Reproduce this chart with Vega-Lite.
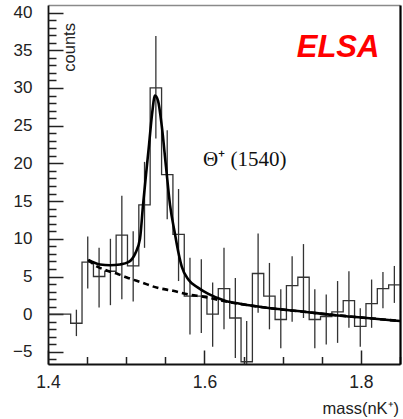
{
  "$schema": "https://vega.github.io/schema/vega-lite/v6.json",
  "width": 352,
  "height": 359,
  "autosize": "none",
  "padding": {"left": 48, "top": 5, "right": 3, "bottom": 55},
  "background": "white",
  "config": {
    "view": {"stroke": null},
    "axis": {"labelFont": "Liberation Sans", "titleFont": "Liberation Sans", "grid": false}
  },
  "datasets": {
    "hist": [
      {"edge": 1.4, "count": 0}, {"edge": 1.4145, "count": 0}, {"edge": 1.429, "count": -1.2},
      {"edge": 1.4435, "count": 6.9}, {"edge": 1.4581, "count": 5.0}, {"edge": 1.4726, "count": 5.7},
      {"edge": 1.4871, "count": 10.5}, {"edge": 1.5016, "count": 6.4}, {"edge": 1.5161, "count": 14.5},
      {"edge": 1.5306, "count": 30.0}, {"edge": 1.5452, "count": 18.5}, {"edge": 1.5597, "count": 10.6},
      {"edge": 1.5742, "count": 2.4}, {"edge": 1.5887, "count": 2.4}, {"edge": 1.6032, "count": 0.0},
      {"edge": 1.6177, "count": 3.4}, {"edge": 1.6323, "count": -0.5}, {"edge": 1.6468, "count": -6.3},
      {"edge": 1.6613, "count": 5.4}, {"edge": 1.6758, "count": 2.4}, {"edge": 1.6903, "count": -0.7},
      {"edge": 1.7048, "count": 3.8}, {"edge": 1.7194, "count": 4.9}, {"edge": 1.7339, "count": -0.7},
      {"edge": 1.7484, "count": -0.3}, {"edge": 1.7629, "count": 0.3}, {"edge": 1.7774, "count": 1.8},
      {"edge": 1.7919, "count": -1.6}, {"edge": 1.8065, "count": 1.4}, {"edge": 1.821, "count": 3.4},
      {"edge": 1.8355, "count": 3.9}, {"edge": 1.85, "count": 3.9}
    ],
    "err": [
      {"xc": 1.4363, "lo": -2.9, "hi": 0.6}, {"xc": 1.4508, "lo": 3.4, "hi": 10.3},
      {"xc": 1.4653, "lo": 0.9, "hi": 8.8}, {"xc": 1.4798, "lo": 1.2, "hi": 10.0},
      {"xc": 1.4944, "lo": 2.0, "hi": 15.7}, {"xc": 1.5089, "lo": 1.7, "hi": 11.0},
      {"xc": 1.5234, "lo": 8.8, "hi": 20.2}, {"xc": 1.5379, "lo": 23.3, "hi": 36.9},
      {"xc": 1.5524, "lo": 12.6, "hi": 24.4}, {"xc": 1.5669, "lo": 4.4, "hi": 16.6},
      {"xc": 1.5815, "lo": -2.7, "hi": 7.5}, {"xc": 1.596, "lo": -2.5, "hi": 7.3},
      {"xc": 1.6105, "lo": -4.3, "hi": 4.2}, {"xc": 1.625, "lo": -2.0, "hi": 8.8},
      {"xc": 1.6395, "lo": -5.8, "hi": 4.8}, {"xc": 1.654, "lo": -11.0, "hi": -0.9},
      {"xc": 1.6686, "lo": 0.2, "hi": 10.7}, {"xc": 1.6831, "lo": -2.0, "hi": 6.8},
      {"xc": 1.6976, "lo": -4.5, "hi": 3.3}, {"xc": 1.7121, "lo": -1.0, "hi": 7.7},
      {"xc": 1.7266, "lo": -0.5, "hi": 9.3}, {"xc": 1.7411, "lo": -4.5, "hi": 3.3},
      {"xc": 1.7557, "lo": -4.0, "hi": 2.6}, {"xc": 1.7702, "lo": -3.8, "hi": 4.4},
      {"xc": 1.7847, "lo": -1.8, "hi": 5.7}, {"xc": 1.7992, "lo": -4.3, "hi": 0.8},
      {"xc": 1.8137, "lo": -1.8, "hi": 4.6}, {"xc": 1.8282, "lo": 0.8, "hi": 5.6},
      {"xc": 1.8428, "lo": 1.5, "hi": 6.4}
    ],
    "fit": [
      {"m": 1.4515, "f": 7.2}, {"m": 1.4665, "f": 6.6}, {"m": 1.4793, "f": 6.5}, {"m": 1.4921, "f": 6.6},
      {"m": 1.5027, "f": 6.9}, {"m": 1.5113, "f": 8.0}, {"m": 1.5176, "f": 10.0}, {"m": 1.5215, "f": 14.5},
      {"m": 1.5253, "f": 18.5}, {"m": 1.5292, "f": 22.5}, {"m": 1.533, "f": 26.5}, {"m": 1.5368, "f": 29.0},
      {"m": 1.5407, "f": 28.3}, {"m": 1.5454, "f": 25.0}, {"m": 1.5509, "f": 19.5}, {"m": 1.556, "f": 14.5},
      {"m": 1.5624, "f": 10.6}, {"m": 1.5646, "f": 9.3}, {"m": 1.571, "f": 6.3}, {"m": 1.5794, "f": 4.6},
      {"m": 1.5922, "f": 3.5}, {"m": 1.605, "f": 2.7}, {"m": 1.6263, "f": 1.8}, {"m": 1.6477, "f": 1.35},
      {"m": 1.6797, "f": 0.85}, {"m": 1.7223, "f": 0.4}, {"m": 1.7645, "f": -0.1}, {"m": 1.8075, "f": -0.5},
      {"m": 1.85, "f": -0.9}
    ],
    "bkg": [
      {"m": 1.4515, "b": 7.2}, {"m": 1.46, "b": 6.5}, {"m": 1.475, "b": 5.8}, {"m": 1.49, "b": 5.3},
      {"m": 1.5, "b": 4.9}, {"m": 1.52, "b": 4.2}, {"m": 1.54, "b": 3.5}, {"m": 1.56, "b": 3.1},
      {"m": 1.58, "b": 2.6}, {"m": 1.6, "b": 2.3}, {"m": 1.62, "b": 1.85}, {"m": 1.64, "b": 1.45},
      {"m": 1.68, "b": 0.85}, {"m": 1.72, "b": 0.4}, {"m": 1.765, "b": -0.1}, {"m": 1.8075, "b": -0.5},
      {"m": 1.85, "b": -0.9}
    ],
    "labels": [
      {"lx": 1.7708, "ly": 34.1, "txt": "ELSA"}
    ],
    "peak": [
      {"lx": 1.5982, "ly": 19.7, "txt": "Θ⁺ (1540)"}
    ],
    "ylab": [
      {"lx": 1.4345, "ly": 38.6, "txt": "counts"}
    ]
  },
  "resolve": {"axis": {"x": "independent", "y": "independent"}},
  "layer": [
    {
      "data": {"name": "hist"},
      "mark": {"type": "line", "interpolate": "step-after", "stroke": "#333333", "strokeWidth": 1.3, "clip": true},
      "encoding": {
        "x": {
          "field": "edge", "type": "quantitative",
          "scale": {"domain": [1.4, 1.85], "nice": false, "zero": false},
          "axis": {
            "orient": "bottom", "values": [1.4, 1.6, 1.8], "format": ".1f",
            "tickSize": -14, "tickWidth": 1.5, "tickColor": "#222222",
            "domainColor": "#111111", "domainWidth": 1.8,
            "labelFontSize": 17.5, "labelColor": "#222222", "labelPadding": 23, "labelFlush": false,
            "title": "mass(nK⁺)", "titleFontSize": 16.5, "titleFontWeight": "normal", "titleColor": "#222222",
            "titleX": 274, "titleY": 49, "titleAlign": "left", "titleBaseline": "alphabetic", "titleAnchor": "start"
          }
        },
        "y": {
          "field": "count", "type": "quantitative",
          "scale": {"domain": [-6.6, 41.0], "nice": false, "zero": false},
          "axis": {
            "orient": "left", "values": [-5, 0, 5, 10, 15, 20, 25, 30, 35, 40],
            "tickSize": -15, "tickWidth": 1.5, "tickColor": "#222222",
            "domainColor": "#111111", "domainWidth": 1.8,
            "labelFontSize": 17, "labelColor": "#222222", "labelPadding": 31,
            "title": null
          }
        }
      }
    },
    {
      "data": {"name": "err"},
      "mark": {"type": "rule", "stroke": "#333333", "strokeWidth": 1.3, "clip": true},
      "encoding": {
        "x": {
          "field": "xc", "type": "quantitative",
          "axis": {
            "orient": "bottom", "values": [1.45, 1.5, 1.55, 1.65, 1.7, 1.75, 1.85],
            "tickSize": -7.5, "tickWidth": 1.5, "tickColor": "#222222",
            "domain": false, "labels": false, "title": null
          }
        },
        "y": {
          "field": "lo", "type": "quantitative",
          "axis": {
            "orient": "left",
            "values": [-6, -4, -3, -2, -1, 1, 2, 3, 4, 6, 7, 8, 9, 11, 12, 13, 14, 16, 17, 18, 19, 21, 22, 23, 24, 26, 27, 28, 29, 31, 32, 33, 34, 36, 37, 38, 39],
            "tickSize": -8, "tickWidth": 1.5, "tickColor": "#222222",
            "domain": false, "labels": false, "title": null
          }
        },
        "y2": {"field": "hi"}
      }
    },
    {
      "data": {"name": "fit"},
      "mark": {"type": "line", "interpolate": "monotone", "stroke": "#000000", "strokeWidth": 2.6, "clip": true},
      "encoding": {
        "x": {
          "field": "m", "type": "quantitative",
          "axis": {"orient": "top", "ticks": false, "labels": false, "domainColor": "#8a8a8a", "domainWidth": 1.6, "title": null}
        },
        "y": {
          "field": "f", "type": "quantitative",
          "axis": {"orient": "right", "ticks": false, "labels": false, "domainColor": "#000000", "domainWidth": 2.2, "title": null}
        }
      }
    },
    {
      "data": {"name": "bkg"},
      "mark": {"type": "line", "interpolate": "monotone", "stroke": "#000000", "strokeWidth": 2.6, "strokeDash": [6, 4], "clip": true},
      "encoding": {
        "x": {"field": "m", "type": "quantitative", "axis": null},
        "y": {"field": "b", "type": "quantitative", "axis": null}
      }
    },
    {
      "data": {"name": "labels"},
      "mark": {"type": "text", "font": "Liberation Sans", "fontSize": 31, "fontWeight": "bold", "fontStyle": "italic", "fill": "#ff0000", "align": "center", "baseline": "alphabetic"},
      "encoding": {
        "x": {"field": "lx", "type": "quantitative", "axis": null},
        "y": {"field": "ly", "type": "quantitative", "axis": null},
        "text": {"field": "txt"}
      }
    },
    {
      "data": {"name": "peak"},
      "mark": {"type": "text", "font": "Liberation Serif", "fontSize": 21, "fill": "#111111", "align": "left", "baseline": "alphabetic"},
      "encoding": {
        "x": {"field": "lx", "type": "quantitative", "axis": null},
        "y": {"field": "ly", "type": "quantitative", "axis": null},
        "text": {"field": "txt"}
      }
    },
    {
      "data": {"name": "ylab"},
      "mark": {"type": "text", "font": "Liberation Sans", "fontSize": 16.5, "fill": "#222222", "align": "right", "baseline": "alphabetic", "angle": 270},
      "encoding": {
        "x": {"field": "lx", "type": "quantitative", "axis": null},
        "y": {"field": "ly", "type": "quantitative", "axis": null},
        "text": {"field": "txt"}
      }
    }
  ]
}
